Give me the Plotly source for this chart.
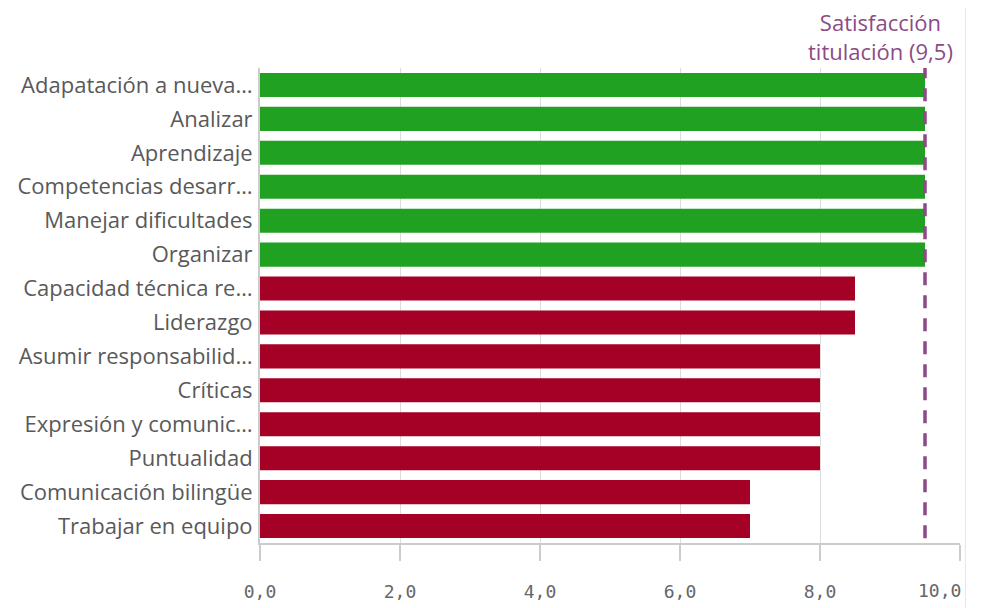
import plotly.graph_objects as go

categories = ["Adapatación a nueva…", "Analizar", "Aprendizaje", "Competencias desarr…",
              "Manejar dificultades", "Organizar", "Capacidad técnica re…", "Liderazgo",
              "Asumir responsabilid…", "Críticas", "Expresión y comunic…", "Puntualidad",
              "Comunicación bilingüe", "Trabajar en equipo"]
values = [9.5, 9.5, 9.5, 9.5, 9.5, 9.5, 8.5, 8.5, 8.0, 8.0, 8.0, 8.0, 7.0, 7.0]
reference_value = 9.5
reference_label = "Satisfacción<br>titulación (9,5)"
tick_vals = [0, 2, 4, 6, 8, 10]
tick_text = ["0,0", "2,0", "4,0", "6,0", "8,0", "10,0"]

GREEN = "#21a121"
RED = "#a50026"
PURPLE = "#8c4a86"
TICKFONT = dict(family="DejaVu Sans Mono", size=18, color="#666666")
colors = [GREEN if v >= reference_value else RED for v in values]

fig = go.Figure(go.Bar(
    x=values, y=categories, orientation="h",
    marker=dict(color=colors, line=dict(width=0)),
    hoverinfo="x+y",
))

fig.add_shape(type="line", xref="x", yref="paper", x0=reference_value, x1=reference_value,
              y0=0.01, y1=1.0, line=dict(color=PURPLE, width=3.5, dash="13px,10px"), layer="above")
fig.add_annotation(x=reference_value, xref="x", y=1.0, yref="paper", yanchor="bottom",
                   xanchor="center", xshift=-45, yshift=0, align="center",
                   text=reference_label, showarrow=False,
                   font=dict(family="Open Sans", size=22, color=PURPLE))

# last tick label is right-aligned to stay inside the panel
fig.add_annotation(x=tick_vals[-1], xref="x", y=0, yref="paper", yanchor="middle",
                   xanchor="right", xshift=3, yshift=-47, text=tick_text[-1],
                   showarrow=False, font=TICKFONT)

# right frame border of the original panel
fig.add_shape(type="line", xref="paper", yref="paper", x0=1.0077, x1=1.0077, y0=-0.2, y1=1.2,
              line=dict(color="#e6e6e6", width=1))

fig.update_layout(
    width=983, height=608,
    margin=dict(l=252, r=31, t=60, b=73, autoexpand=False),
    paper_bgcolor="white", plot_bgcolor="white",
    bargap=0.29, showlegend=False,
    font=dict(family="Open Sans", color="#595959"),
    xaxis=dict(range=[0, 10], tickvals=tick_vals, ticktext=tick_text[:-1] + [""],
               automargin=False,
               showgrid=True, gridcolor="#dcdcdc", gridwidth=1,
               zeroline=False, showline=True, linecolor="#cccccc", linewidth=2,
               ticks="outside", ticklen=16, tickcolor="#cccccc", tickwidth=2,
               ticklabelstandoff=15,
               tickfont=TICKFONT,
               fixedrange=True),
    yaxis=dict(autorange="reversed", showgrid=False, zeroline=False,
               automargin=False,
               showline=True, linecolor="#cccccc", linewidth=2,
               ticks="", ticklabelstandoff=1,
               tickfont=dict(family="Open Sans", size=22, color="#595959"),
               fixedrange=True),
)

fig.write_html("out.html")
